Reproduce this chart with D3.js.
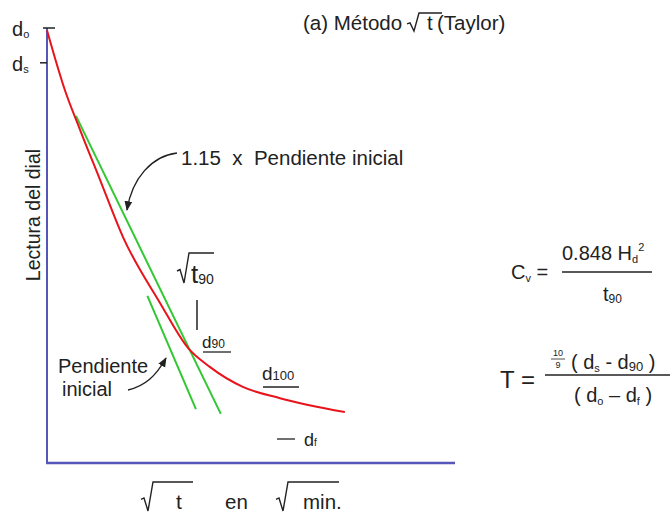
<!DOCTYPE html>
<html>
<head>
<meta charset="utf-8">
<script src="https://cdn.jsdelivr.net/npm/d3@7"></script>
<style>
  html, body { margin: 0; padding: 0; background: #fff; }
  svg { display: block; font-family: "Liberation Sans", Arial, sans-serif; }
  text { fill: #222; }
</style>
</head>
<body>
<svg id="chart" width="671" height="513"></svg>
<script>
// ---- data (x = sqrt(t), y = dial reading, arbitrary units) ----
const curveX = [0, 0.44, 0.81, 1.30, 1.86, 2.77, 3.46, 3.99, 4.80, 5.71, 7.30];
const curveY = [0.05, 1.43, 2.34, 3.49, 4.80, 6.32, 7.36, 7.79, 8.25, 8.51, 8.83];
const slope115X = [0.71, 4.26];   // 1.15 x initial slope line
const slope115Y = [2.02, 8.87];
const slopeInitX = [2.46, 3.65];  // initial slope line
const slopeInitY = [6.16, 8.76];
const yTickValues = [0, 0.8];
const yTickLabels = [["d", "o"], ["d", "s"]];

// ---- scales ----
const x = d3.scaleLinear().domain([0, 10]).range([47, 455]);
const y = d3.scaleLinear().domain([0, 10]).range([28, 463]);

const svg = d3.select("#chart");
const BLUE = "#5656b8", RED = "#e8141c", GREEN = "#33c833", INK = "#222";

// axes
svg.append("line").attr("x1", x(0)).attr("x2", x(0)).attr("y1", y(0)).attr("y2", y(10))
  .attr("stroke", BLUE).attr("stroke-width", 2);
svg.append("line").attr("x1", x(0) - 1).attr("x2", x(10)).attr("y1", y(10)).attr("y2", y(10))
  .attr("stroke", BLUE).attr("stroke-width", 2.5);

// y ticks
yTickValues.forEach((v, i) => {
  const yy = y(v);
  svg.append("line").attr("x1", i === 0 ? x(0) - 4 : x(0) - 7).attr("x2", i === 0 ? x(0) + 8 : x(0))
    .attr("y1", yy).attr("y2", yy).attr("stroke", INK).attr("stroke-width", 1.5);
  const t = svg.append("text").attr("x", 12).attr("y", yy + 8).attr("font-size", 20);
  t.append("tspan").text(yTickLabels[i][0]);
  t.append("tspan").attr("font-size", 11).attr("dy", 2).text(yTickLabels[i][1]);
});

// lines
const line = d3.line().x(d => x(d[0])).y(d => y(d[1]));
svg.append("path").datum(slope115X.map((v, i) => [v, slope115Y[i]]))
  .attr("d", line).attr("fill", "none").attr("stroke", GREEN).attr("stroke-width", 2);
svg.append("path").datum(slopeInitX.map((v, i) => [v, slopeInitY[i]]))
  .attr("d", line).attr("fill", "none").attr("stroke", GREEN).attr("stroke-width", 2);
svg.append("path").datum(curveX.map((v, i) => [v, curveY[i]]))
  .attr("d", line.curve(d3.curveMonotoneX)).attr("fill", "none").attr("stroke", RED).attr("stroke-width", 2);

// arrowhead marker
svg.append("defs").append("marker").attr("id", "ah").attr("viewBox", "0 0 10 10")
  .attr("refX", 9).attr("refY", 5).attr("markerWidth", 7).attr("markerHeight", 7)
  .attr("orient", "auto-start-reverse")
  .append("path").attr("d", "M0,1 L10,5 L0,9 Z").attr("fill", INK);

// annotation 1
svg.append("text").attr("x", 181).attr("y", 165).attr("font-size", 20.5)
  .attr("xml:space", "preserve").text("1.15  x  Pendiente inicial");
svg.append("path").attr("d", "M177,153 C152,156 132,178 127,210")
  .attr("fill", "none").attr("stroke", INK).attr("stroke-width", 1.4).attr("marker-end", "url(#ah)");

// annotation 2
svg.append("text").attr("x", 58).attr("y", 373).attr("font-size", 20).text("Pendiente");
svg.append("text").attr("x", 62).attr("y", 396).attr("font-size", 20).text("inicial");
svg.append("path").attr("d", "M128,390 C145,386 156,376 166,358")
  .attr("fill", "none").attr("stroke", INK).attr("stroke-width", 1.4).attr("marker-end", "url(#ah)");

// sqrt sign helper
function sqrtSign(x0, yTop, yBot, xEnd) {
  const h = yBot - yTop;
  svg.append("path")
    .attr("d", `M${x0},${yBot - h * 0.4} L${x0 + 3},${yBot - h * 0.45} L${x0 + 7},${yBot} L${x0 + 12},${yTop} L${xEnd},${yTop}`)
    .attr("fill", "none").attr("stroke", INK).attr("stroke-width", 1.4);
}

// sqrt(t90)
sqrtSign(177, 253, 283, 214);
let tt = svg.append("text").attr("x", 191).attr("y", 283).attr("font-size", 26);
tt.append("tspan").text("t");
tt.append("tspan").attr("font-size", 14).attr("dy", 1).text("90");
svg.append("line").attr("x1", 197).attr("x2", 197).attr("y1", 300).attr("y2", 330)
  .attr("stroke", INK).attr("stroke-width", 1.5);

// d90
let d90 = svg.append("text").attr("x", 202).attr("y", 348).attr("font-size", 17);
d90.append("tspan").text("d");
d90.append("tspan").attr("font-size", 12).text("90");
svg.append("line").attr("x1", 203).attr("x2", 231).attr("y1", 352).attr("y2", 352)
  .attr("stroke", INK).attr("stroke-width", 1.3);

// d100
let d100 = svg.append("text").attr("x", 262).attr("y", 380).attr("font-size", 19);
d100.append("tspan").text("d");
d100.append("tspan").attr("font-size", 13).text("100");
svg.append("line").attr("x1", 263).attr("x2", 299).attr("y1", 387).attr("y2", 387)
  .attr("stroke", INK).attr("stroke-width", 1.4);

// df
svg.append("line").attr("x1", 277).attr("x2", 295).attr("y1", 439).attr("y2", 439)
  .attr("stroke", INK).attr("stroke-width", 1.3);
let df = svg.append("text").attr("x", 304).attr("y", 446).attr("font-size", 18);
df.append("tspan").text("d");
df.append("tspan").attr("font-size", 10).attr("dy", 0).text("f");

// y title
svg.append("text").attr("transform", "translate(40,215) rotate(-90)").attr("text-anchor", "middle")
  .attr("font-size", 19.5).text("Lectura del dial");

// x title
sqrtSign(141, 482, 511, 193);
svg.append("text").attr("x", 176).attr("y", 509).attr("font-size", 21).text("t");
svg.append("text").attr("x", 225).attr("y", 509).attr("font-size", 20.5).text("en");
sqrtSign(276, 482, 511, 339);
svg.append("text").attr("x", 303).attr("y", 509).attr("font-size", 20.5).text("min.");

// title
svg.append("text").attr("x", 303).attr("y", 30).attr("font-size", 20.5).text("(a) Método");
sqrtSign(407, 13, 31, 442);
svg.append("text").attr("x", 427).attr("y", 30).attr("font-size", 20.5).text("t");
svg.append("text").attr("x", 437).attr("y", 30).attr("font-size", 20.5).text("(Taylor)");

// Cv formula
let cv = svg.append("text").attr("x", 511).attr("y", 279).attr("font-size", 20);
cv.append("tspan").text("C");
cv.append("tspan").attr("font-size", 11).attr("dy", 3).text("v");
cv.append("tspan").attr("dy", -3).text(" =");
let num = svg.append("text").attr("x", 562).attr("y", 260).attr("font-size", 20);
num.append("tspan").text("0.848 H");
num.append("tspan").attr("font-size", 11).attr("dy", 3).text("d");
num.append("tspan").attr("font-size", 11).attr("dy", -12).text("2");
svg.append("line").attr("x1", 562).attr("x2", 652).attr("y1", 272).attr("y2", 272)
  .attr("stroke", INK).attr("stroke-width", 1.4);
let den = svg.append("text").attr("x", 603).attr("y", 301).attr("font-size", 20);
den.append("tspan").text("t");
den.append("tspan").attr("font-size", 12).attr("dy", 2).text("90");

// T formula
svg.append("text").attr("x", 500).attr("y", 388).attr("font-size", 24).text("T =");
svg.append("text").attr("x", 558).attr("y", 356).attr("font-size", 9).attr("text-anchor", "middle").text("10");
svg.append("line").attr("x1", 551).attr("x2", 565).attr("y1", 359).attr("y2", 359)
  .attr("stroke", INK).attr("stroke-width", 0.8);
svg.append("text").attr("x", 558).attr("y", 368).attr("font-size", 9).attr("text-anchor", "middle").text("9");
let tn = svg.append("text").attr("x", 571).attr("y", 369).attr("font-size", 20).attr("xml:space", "preserve");
tn.append("tspan").text("( d");
tn.append("tspan").attr("font-size", 11).attr("dy", 3).text("s");
tn.append("tspan").attr("dy", -3).text(" - d");
tn.append("tspan").attr("font-size", 13).attr("dy", 2).text("90");
tn.append("tspan").attr("dy", -2).text(" )");
svg.append("line").attr("x1", 545).attr("x2", 670).attr("y1", 375).attr("y2", 375)
  .attr("stroke", INK).attr("stroke-width", 1.4);
let td = svg.append("text").attr("x", 574).attr("y", 402).attr("font-size", 20).attr("xml:space", "preserve");
td.append("tspan").text("( d");
td.append("tspan").attr("font-size", 11).attr("dy", 3).text("o");
td.append("tspan").attr("dy", -3).text(" – d");
td.append("tspan").attr("font-size", 11).attr("dy", 3).text("f");
td.append("tspan").attr("dy", -3).text(" )");
</script>
</body>
</html>
